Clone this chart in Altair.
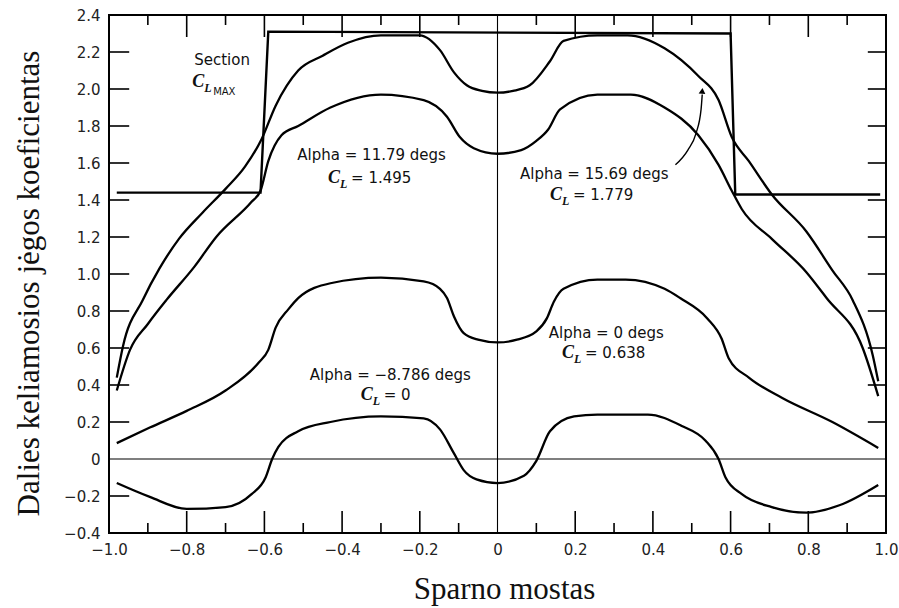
import altair as alt
import pandas as pd

# ---------------- data ----------------
x_tick_values = [-1.0, -0.8, -0.6, -0.4, -0.2, 0.0, 0.2, 0.4, 0.6, 0.8, 1.0]
y_tick_values = [-0.4, -0.2, 0.0, 0.2, 0.4, 0.6, 0.8, 1.0, 1.2, 1.4, 1.6, 1.8, 2.0, 2.2, 2.4]
x_minor_values = [-0.9, -0.7, -0.5, -0.3, -0.1, 0.1, 0.3, 0.5, 0.7, 0.9]
x_major_inner = [-0.8, -0.6, -0.4, -0.2, 0.2, 0.4, 0.6, 0.8]
y_major_inner = [-0.2, 0.2, 0.4, 0.6, 0.8, 1.0, 1.2, 1.4, 1.6, 1.8, 2.0, 2.2]

# Section CL_MAX step line
cl_max_x = [-0.98, -0.61, -0.59, 0.60, 0.612, 0.985]
cl_max_y = [1.44, 1.44, 2.31, 2.30, 1.43, 1.43]

# Alpha = 15.69 degs, CL = 1.779
a1569_x = [-0.98, -0.964, -0.913, -0.87, -0.82, -0.76, -0.70, -0.65, -0.607, -0.571, -0.513, -0.45,
           -0.385, -0.30, -0.20, -0.148, -0.112, -0.079, -0.04, 0.0, 0.04, 0.083, 0.135, 0.17, 0.257,
           0.335, 0.43, 0.517, 0.569, 0.603, 0.647, 0.706, 0.795, 0.862, 0.914, 0.966, 0.98]
a1569_y = [0.44, 0.61, 0.86, 1.03, 1.19, 1.33, 1.46, 1.58, 1.73, 1.91, 2.10, 2.18,
           2.25, 2.29, 2.29, 2.21, 2.09, 2.02, 1.99, 1.98, 1.99, 2.02, 2.15, 2.26, 2.29,
           2.29, 2.22, 2.07, 1.94, 1.74, 1.61, 1.43, 1.23, 1.02, 0.86, 0.56, 0.42]

# Alpha = 11.79 degs, CL = 1.495
a1179_x = [-0.98, -0.946, -0.90, -0.852, -0.78, -0.724, -0.633, -0.61, -0.59, -0.556, -0.513, -0.43,
           -0.30, -0.19, -0.13, -0.097, -0.061, 0.0, 0.061, 0.10, 0.13, 0.161, 0.257, 0.343, 0.43,
           0.517, 0.569, 0.603, 0.629, 0.706, 0.795, 0.847, 0.94, 0.98]
a1179_y = [0.37, 0.59, 0.73, 0.86, 1.04, 1.20, 1.39, 1.45, 1.61, 1.75, 1.80, 1.90,
           1.97, 1.94, 1.85, 1.74, 1.68, 1.65, 1.67, 1.72, 1.78, 1.89, 1.97, 1.97, 1.90,
           1.75, 1.59, 1.45, 1.35, 1.19, 1.01, 0.87, 0.60, 0.34]

# Alpha = 0 degs, CL = 0.638
a0_x = [-0.98, -0.895, -0.80, -0.70, -0.615, -0.59, -0.571, -0.538, -0.513, -0.43, -0.30, -0.19,
        -0.148, -0.13, -0.112, -0.087, -0.05, 0.0, 0.05, 0.10, 0.127, 0.145, 0.17, 0.257, 0.33,
        0.43, 0.47, 0.54, 0.577, 0.595, 0.647, 0.733, 0.862, 0.98]
a0_y = [0.086, 0.17, 0.26, 0.37, 0.52, 0.59, 0.71, 0.81, 0.87, 0.95, 0.98, 0.96,
        0.92, 0.87, 0.77, 0.68, 0.645, 0.63, 0.645, 0.69, 0.76, 0.85, 0.92, 0.97, 0.97,
        0.92, 0.87, 0.76, 0.65, 0.545, 0.44, 0.33, 0.20, 0.06]

# Alpha = -8.786 degs, CL = 0
am8_x = [-0.98, -0.895, -0.80, -0.70, -0.633, -0.597, -0.58, -0.564, -0.513, -0.43, -0.30, -0.19,
         -0.148, -0.112, -0.087, -0.054, 0.0, 0.068, 0.10, 0.135, 0.197, 0.257, 0.387, 0.473,
         0.535, 0.569, 0.587, 0.629, 0.706, 0.795, 0.88, 0.98]
am8_y = [-0.13, -0.205, -0.27, -0.26, -0.19, -0.10, 0.0, 0.065, 0.15, 0.20, 0.23, 0.22,
         0.16, 0.03, -0.06, -0.11, -0.13, -0.09, -0.01, 0.15, 0.23, 0.24, 0.24, 0.18,
         0.10, 0.0, -0.10, -0.19, -0.26, -0.29, -0.25, -0.14]

# annotation arrow
arrow_x = [0.458, 0.490, 0.511, 0.524, 0.527]
arrow_y = [1.59, 1.67, 1.76, 1.89, 1.97]
arrow_head_x = [0.527]
arrow_head_y = [1.99]

# annotation texts
center_text = ["Section", "Alpha = 11.79 degs", "Alpha = 15.69 degs", "Alpha = 0 degs", "Alpha = \u22128.786 degs"]
center_x = [-0.709, -0.324, 0.249, 0.280, -0.276]
center_y = [2.13, 1.616, 1.515, 0.654, 0.427]

cl_x = [-0.786, -0.436, 0.135, 0.166, -0.352]
cl_y = [2.01, 1.492, 1.40, 0.546, 0.319]
cl_values = ["", "= 1.495", "= 1.779", "= 0.638", "= 0"]

x_title = "Sparno mostas"
y_title = "Dalies keliamosios j\u0117gos koeficientas"

# ---------------- build tables ----------------
def curve_df(name, xs, ys):
    return pd.DataFrame({"curve": name, "x": xs, "y": ys, "i": range(len(xs))})

curves = pd.concat([
    curve_df("a1569", a1569_x, a1569_y),
    curve_df("a1179", a1179_x, a1179_y),
    curve_df("a0", a0_x, a0_y),
    curve_df("am8", am8_x, am8_y),
])
step = curve_df("clmax", cl_max_x, cl_max_y)
arrow = curve_df("arrow", arrow_x, arrow_y)
head = pd.DataFrame({"x": arrow_head_x, "y": arrow_head_y})

XD = [-1.0, 1.0]
YD = [-0.4, 2.4]
xs = alt.Scale(domain=XD, nice=False, zero=False)
ys = alt.Scale(domain=YD, nice=False, zero=False)

label_expr = "datum.value == 0 ? '0' : format(datum.value, '.1f')"

x_axis = alt.Axis(values=x_tick_values, labelExpr=label_expr, ticks=False, domain=False, grid=False,
                  labelPadding=9, labelOverlap=False, labelFlush=False,
                  titleX=395, titleY=65, titleAlign="center", titleBaseline="alphabetic")
y_axis = alt.Axis(values=y_tick_values, labelExpr=label_expr, ticks=False, domain=False, grid=False,
                  labelPadding=9, labelOverlap=False, labelFlush=False,
                  titleX=-71, titleY=268, titleAlign="center",
                  titleBaseline="alphabetic", titleAngle=-90)
X = alt.X("x:Q", scale=xs, title=x_title, axis=x_axis)
Y = alt.Y("y:Q", scale=ys, title=y_title, axis=y_axis)

base_lines = alt.Chart(curves).mark_line(color="black", strokeWidth=2.3, interpolate="monotone").encode(
    x=X, y=Y, detail="curve:N", order="i:Q")

step_line = alt.Chart(step).mark_line(color="black", strokeWidth=2.4).encode(
    x=X, y=Y, order="i:Q")

arrow_line = alt.Chart(arrow).mark_line(color="black", strokeWidth=1.4, interpolate="monotone").encode(
    x=X, y=Y, order="i:Q")
arrow_head = alt.Chart(head).mark_point(shape="triangle-up", filled=True, color="black", size=45,
                                        opacity=1, angle=5).encode(x=X, y=Y)

# reference lines (zero line and centre line)
zero_df = pd.DataFrame({"x": [XD[0]], "x2": [XD[1]], "y": [0.0]})
zero_line = alt.Chart(zero_df).mark_rule(color="black", strokeWidth=1.1).encode(
    x=X, x2="x2:Q", y=Y)
center_df = pd.DataFrame({"x": [0.0], "y": [YD[0]], "y2": [YD[1]]})
center_line = alt.Chart(center_df).mark_rule(color="black", strokeWidth=1.1).encode(
    x=X, y=Y, y2="y2:Q")

# inner ticks (drawn as rules so that they point into the plot)
major_len_y = 0.119   # ~22 px in y units
minor_len_y = 0.054   # ~10 px
major_len_x = 0.052   # ~20 px in x units
tick_rows = []
for v in x_major_inner:
    tick_rows.append({"x": v, "x2": v, "y": YD[0], "y2": YD[0] + major_len_y})
    tick_rows.append({"x": v, "x2": v, "y": YD[1], "y2": YD[1] - major_len_y})
for v in x_minor_values:
    tick_rows.append({"x": v, "x2": v, "y": YD[0], "y2": YD[0] + minor_len_y})
    tick_rows.append({"x": v, "x2": v, "y": YD[1], "y2": YD[1] - minor_len_y})
for v in y_major_inner:
    tick_rows.append({"x": XD[0], "x2": XD[0] + major_len_x, "y": v, "y2": v})
    tick_rows.append({"x": XD[1], "x2": XD[1] - major_len_x * 0.9, "y": v, "y2": v})
ticks_df = pd.DataFrame(tick_rows)
tick_marks = alt.Chart(ticks_df).mark_rule(color="black", strokeWidth=1.6).encode(
    x=X, x2="x2:Q", y=Y, y2="y2:Q")

# annotation texts
ctext_df = pd.DataFrame({"x": center_x, "y": center_y, "t": center_text})
ctext = alt.Chart(ctext_df).mark_text(font="DejaVu Sans", fontSize=15, align="center",
                                      baseline="alphabetic", color="#111").encode(
    x=X, y=Y, text="t:N")

cl_df = pd.DataFrame({"x": cl_x, "y": cl_y, "c": ["C"] * len(cl_x), "l": ["L"] * len(cl_x), "v": cl_values})
c_letter = alt.Chart(cl_df).mark_text(font="Liberation Serif", fontSize=18, fontStyle="italic",
                                      fontWeight="bold", align="left", baseline="alphabetic",
                                      color="#111").encode(x=X, y=Y, text="c:N")
l_letter = alt.Chart(cl_df).mark_text(font="Liberation Serif", fontSize=12, fontStyle="italic",
                                      fontWeight="bold", align="left", baseline="alphabetic",
                                      dx=12, dy=5, color="#111").encode(x=X, y=Y, text="l:N")
v_text = alt.Chart(cl_df).mark_text(font="DejaVu Sans", fontSize=15, align="left",
                                    baseline="alphabetic", dx=23, color="#111").encode(
    x=X, y=Y, text="v:N")
max_df = pd.DataFrame({"x": [cl_x[0]], "y": [cl_y[0]], "t": ["MAX"]})
max_text = alt.Chart(max_df).mark_text(font="DejaVu Sans", fontSize=10, align="left",
                                       baseline="alphabetic", dx=21, dy=8, color="#111").encode(
    x=X, y=Y, text="t:N")

chart = alt.layer(
    base_lines, zero_line, center_line, tick_marks, step_line, arrow_line, arrow_head,
    ctext, c_letter, l_letter, v_text, max_text
).properties(
    width=777, height=518,
    autosize=alt.AutoSizeParams(type="none"),
    padding={"left": 109, "top": 15, "right": 13, "bottom": 75},
    background="white",
).configure_view(
    stroke="black", strokeWidth=2
).configure_axis(
    labelFont="DejaVu Sans", labelFontSize=15, labelColor="#222",
    titleFont="Liberation Serif", titleFontSize=31, titleFontWeight="normal", titleColor="#111"
)

chart.save("out.html", embed_options={"renderer": "svg", "actions": False})
